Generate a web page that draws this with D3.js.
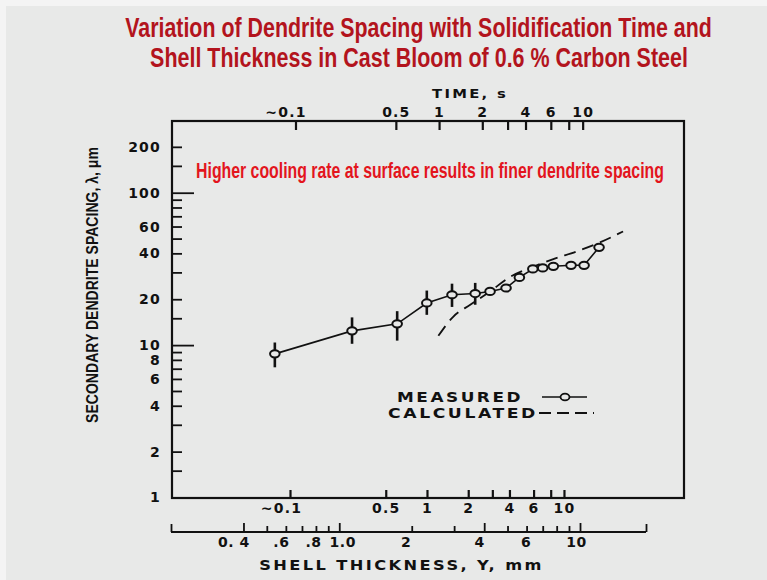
<!DOCTYPE html>
<html><head><meta charset="utf-8">
<script src="https://cdn.jsdelivr.net/npm/d3@7"></script>
<style>html,body{margin:0;padding:0;background:#fff;overflow:hidden}</style>
</head><body><div id="chart"></div>
<script>
// ---------- data ----------
const titleLines = ["Variation of Dendrite Spacing with Solidification Time and",
                    "Shell Thickness in Cast Bloom of 0.6 % Carbon Steel"];
const annotation = "Higher cooling rate at surface results in finer dendrite spacing";
const xAxisTitle = "SHELL THICKNESS, Y, mm";
const topAxisTitle = "TIME, s";
const yAxisTitle = "SECONDARY DENDRITE SPACING, \u03BB, \u03BCm";
const legendLabels = ["MEASURED", "CALCULATED"];

// measured: shell thickness (mm) vs secondary dendrite spacing (um)
const measuredThickness = [0.54, 1.13, 1.74, 2.31, 2.94, 3.67, 4.23, 4.93, 5.60, 6.37, 7.0, 7.75, 9.18, 10.4, 12.0];
const measuredSpacing   = [8.76, 12.4, 13.8, 18.9, 21.4, 21.8, 22.5, 23.7, 27.8, 31.6, 32.1, 32.9, 33.4, 33.4, 43.8];
// scatter bands on the first six measurements
const errorLow  = [7.15, 10.2, 10.7, 15.8, 17.8, 18.4];
const errorHigh = [10.4, 15.2, 16.7, 22.8, 25.3, 25.6];

// calculated curve
const calcThickness = [2.58, 2.98, 3.50, 4.23, 5.12, 6.20, 7.75, 9.69, 12.1, 15.1];
const calcSpacing   = [11.5, 15.4, 18.4, 22.5, 28.0, 32.1, 36.7, 41.2, 47.2, 55.7];

// ticks
const yTicks = [1.5,2,3,4,5,6,7,8,9,10,15,20,30,40,50,60,70,80,90,100,150,200];
const yMajor = [10, 100];
const yLabelValues = [1,2,4,6,8,10,20,40,60,100,200];
const timeTicks = [0.1,0.5,1,2,3,4,6,8,10];
const timeLabelValues = [0.1,0.5,1,2,4,6,10];
const timeLabels = ["~0.1","0.5","1","2","4","6","10"];
const shellTicks = [0.4,0.5,0.6,0.7,0.8,0.9,1,2,3,4,5,6,7,8,9,10];
const shellMajor = [0.4,1,4,10];
const shellLabelValues = [0.4,0.6,0.8,1,2,4,6,10];
const shellLabels = ["0. 4",".6",".8","1.0","2","4","6","10"];

// ---------- drawing ----------
const W = 767, H = 580;
const box = {l:172, r:684, t:121, b:498};
const ink = "#111";
const bg = "#e8e9e8";
const letterFont = "'DejaVu Sans', sans-serif";
// hand-lettered label nudges on the shell-thickness axis (layout only)
const shellLabelNudge = [-10,-5,-3,3,-6,-5,-1,-4];

const svg = d3.select("#chart").append("svg").attr("width", W).attr("height", H);
svg.append("rect").attr("x",0).attr("y",0).attr("width",W).attr("height",H).attr("fill","#f4f4f4");
svg.append("rect").attr("x",6).attr("y",6).attr("width",W-6).attr("height",H-6).attr("fill",bg);

// text fitted horizontally to a measured span (keeps real text)
function fitText(str, x0, x1, yBase, opts, rotate){
  const t = svg.append("text").text(str)
    .attr("font-family",opts.family).attr("font-weight",opts.weight||"bold")
    .attr("font-size",opts.size).attr("fill",opts.fill||ink)
    .attr("letter-spacing",opts.ls||0).attr("text-anchor","middle").attr("x",0).attr("y",0);
  const natural = t.node().getComputedTextLength();
  const s = (x1-x0)/natural;
  const cx = (x0+x1)/2;
  if (rotate) t.attr("transform",`translate(${yBase},${cx}) rotate(-90) scale(${s},1)`);
  else t.attr("transform",`translate(${cx},${yBase}) scale(${s},1)`);
  return t;
}

const narrow = "'Liberation Sans Narrow','Liberation Sans',Arial,sans-serif";
// titles
fitText(titleLines[0],125,712,37,{family:narrow,size:28,fill:"#b3141d"});
fitText(titleLines[1],150,688,67,{family:narrow,size:28,fill:"#b3141d"});

// scales
const y = d3.scaleLog().domain([1,300]).range([497.5,120]);
const xShell = d3.scaleLog().domain([0.2,18.8]).range([171,646]);
const xTime = d3.scaleLog().domain([0.0138,50.8]).range([box.l,box.r]);
const xInner = d3.scaleLog().domain([0.01376,75.2]).range([box.l,box.r]);

// frame
svg.append("rect").attr("x",box.l).attr("y",box.t).attr("width",box.r-box.l).attr("height",box.b-box.t)
  .attr("fill","none").attr("stroke",ink).attr("stroke-width",2.2);

function styleAxis(g){
  g.select(".domain").remove();
  g.selectAll(".tick line").attr("stroke",ink).attr("stroke-width",1.8);
  g.selectAll(".tick text").attr("font-family",letterFont).attr("font-weight","bold")
    .attr("font-size",14).attr("letter-spacing",1.2).attr("fill",ink);
}

// left axis
const yAx = svg.append("g").attr("transform",`translate(${box.l},0)`)
  .call(d3.axisLeft(y).tickValues(yTicks.concat([1])).tickSize(-10).tickPadding(11)
    .tickFormat(d => yLabelValues.includes(d) ? String(d) : ""));
styleAxis(yAx);
yAx.selectAll(".tick").filter(d=>d===1).select("line").remove();
yAx.selectAll(".tick").filter(d=>yMajor.includes(d)).select("line").attr("x2",22);

// top axis (time)
const tAx = svg.append("g").attr("transform",`translate(0,${box.t})`)
  .call(d3.axisTop(xTime).tickValues(timeTicks).tickSize(-9).tickPadding(4)
    .tickFormat(d => { const i = timeLabelValues.indexOf(d); return i<0 ? "" : timeLabels[i]; }));
styleAxis(tAx);
tAx.selectAll(".tick text").filter(d=>d===0.1).attr("dx",-10);
tAx.selectAll(".tick line").attr("stroke-width",2.2);
fitText(topAxisTitle,432,508,98,{family:letterFont,size:13,ls:2});

// inner bottom axis
const iAx = svg.append("g").attr("transform",`translate(0,${box.b})`)
  .call(d3.axisBottom(xInner).tickValues(timeTicks).tickSize(-8).tickPadding(5)
    .tickFormat(d => { const i = timeLabelValues.indexOf(d); return i<0 ? "" : timeLabels[i]; }));
styleAxis(iAx);
iAx.selectAll(".tick text").filter(d=>d===0.1).attr("dx",-9);
iAx.selectAll(".tick line").attr("stroke-width",2.2);

// outer shell thickness axis
const sY = 532;
svg.append("line").attr("x1",xShell.range()[0]).attr("x2",xShell.range()[1]).attr("y1",sY).attr("y2",sY)
  .attr("stroke",ink).attr("stroke-width",1.8);
const sAx = svg.append("g").attr("transform",`translate(0,${sY})`)
  .call(d3.axisBottom(xShell).tickValues(xShell.domain().concat(shellTicks)).tickSize(-6).tickPadding(5)
    .tickFormat(d => { const i = shellLabelValues.indexOf(d); return i<0 ? "" : shellLabels[i]; }));
styleAxis(sAx);
sAx.selectAll(".tick").filter(d=>shellMajor.includes(d)).select("line").attr("y2",-9);
sAx.selectAll(".tick").filter(d=>xShell.domain().includes(d)).select("line").attr("y2",-8);
sAx.selectAll(".tick text").attr("letter-spacing",0.5)
  .attr("dx", d => { const i = shellLabelValues.indexOf(d); return i<0 ? 0 : shellLabelNudge[i]; });
fitText(xAxisTitle,259,544,570,{family:letterFont,size:13.5,ls:2});

// y title (rotated)
fitText(yAxisTitle,147,423,98,{family:"'Liberation Sans',Arial,sans-serif",size:16},true);

// annotation
fitText(annotation,196,664,178,{family:narrow,size:22,fill:"#e3151d"});

// calculated curve
const calc = calcThickness.map((t,i)=>[t,calcSpacing[i]]);
svg.append("path").datum(calc)
  .attr("d", d3.line().x(d=>xShell(d[0])).y(d=>y(d[1])).curve(d3.curveMonotoneX))
  .attr("fill","none").attr("stroke",ink).attr("stroke-width",1.8).attr("stroke-dasharray","12,7");

// measured line
const meas = measuredThickness.map((t,i)=>[t,measuredSpacing[i]]);
svg.append("path").datum(meas)
  .attr("d", d3.line().x(d=>xShell(d[0])).y(d=>y(d[1])))
  .attr("fill","none").attr("stroke",ink).attr("stroke-width",1.6);

// error bars
svg.append("g").selectAll("line").data(errorLow).join("line")
  .attr("x1",(d,i)=>xShell(measuredThickness[i])).attr("x2",(d,i)=>xShell(measuredThickness[i]))
  .attr("y1",d=>y(d)).attr("y2",(d,i)=>y(errorHigh[i]))
  .attr("stroke",ink).attr("stroke-width",2.6);

// markers
svg.append("g").selectAll("ellipse").data(meas).join("ellipse")
  .attr("cx",d=>xShell(d[0])).attr("cy",d=>y(d[1])).attr("rx",4.8).attr("ry",3.6)
  .attr("fill",bg).attr("stroke",ink).attr("stroke-width",2);

// legend
fitText(legendLabels[0],397,523,402,{family:letterFont,size:13.5,ls:2});
fitText(legendLabels[1],388,538,418,{family:letterFont,size:13.5,ls:2});
svg.append("line").attr("x1",542).attr("x2",587).attr("y1",397).attr("y2",397).attr("stroke",ink).attr("stroke-width",1.6);
svg.append("ellipse").attr("cx",565).attr("cy",397).attr("rx",4.5).attr("ry",3.4).attr("fill",bg).attr("stroke",ink).attr("stroke-width",1.8);
svg.append("line").attr("x1",539).attr("x2",594).attr("y1",413).attr("y2",413).attr("stroke",ink).attr("stroke-width",1.8)
  .attr("stroke-dasharray","12,6");
</script>
</body></html>
